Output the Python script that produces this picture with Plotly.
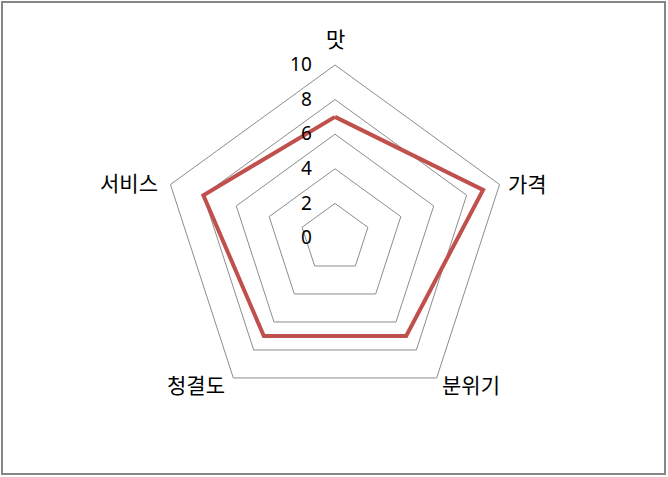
import plotly.graph_objects as go

# radar chart: restaurant ratings
categories = ['맛', '가격', '분위기', '청결도', '서비스']
scores = [7, 9, 7, 7, 8]
tick_vals = [0, 2, 4, 6, 8, 10]

W, H = 668, 477
grid_col = '#8c8c8c'

# Excel puts the category names beside the corners rather than straight out,
# so they go in as annotations (pixel centres, measured off the original)
label_px = {'맛': (335, 38), '가격': (527, 183), '분위기': (471, 384),
            '청결도': (196, 384), '서비스': (129, 182)}

fig = go.Figure()
fig.add_trace(go.Scatterpolar(
    r=scores + scores[:1],
    theta=categories + categories[:1],
    mode='lines',
    line=dict(color='#C0504D', width=4),
    showlegend=False,
))

for name in categories:
    px_x, px_y = label_px[name]
    fig.add_annotation(text=name, x=px_x / W, y=1 - px_y / H,
                       xref='paper', yref='paper', showarrow=False,
                       xanchor='center', yanchor='middle',
                       font=dict(size=21, family='Noto Sans CJK KR'))

fig.update_layout(
    width=W, height=H,
    margin=dict(l=0, r=0, t=0, b=0),
    paper_bgcolor='white',
    font=dict(family='Noto Sans CJK KR', color='black'),
    polar=dict(
        domain=dict(x=[162 / W, 508 / W], y=[1 - 411 / H, 1 - 65 / H]),
        gridshape='linear',
        bgcolor='white',
        angularaxis=dict(
            rotation=90, direction='clockwise',
            showgrid=False, showline=True,
            linecolor=grid_col, linewidth=1,
            ticks='', showticklabels=False,
        ),
        radialaxis=dict(
            range=[0, 10], tickvals=tick_vals,
            angle=90, side='counterclockwise', tickangle=90,
            showline=False,
            ticks='outside', ticklen=16, tickcolor='rgba(0,0,0,0)',
            gridcolor=grid_col, gridwidth=1,
            tickfont=dict(size=19, family='Noto Sans'),
        ),
    ),
    shapes=[dict(
        type='rect', xref='paper', yref='paper',
        x0=2 / W, x1=665 / W, y0=1 - 474 / H, y1=1 - 2 / H,
        line=dict(color='#868686', width=2),
    )],
)

# page body has a default margin, drop it so the figure sits at 0,0
fig.write_html('out.html', config={'displayModeBar': False},
               post_script="document.body.style.margin='0';")
